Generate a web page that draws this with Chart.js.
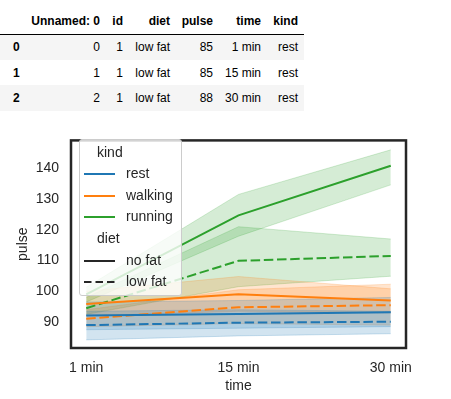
<!DOCTYPE html>
<html>
<head>
<meta charset="utf-8">
<script src="https://cdn.jsdelivr.net/npm/chart.js@4.4.0/dist/chart.umd.min.js"></script>
<style>
  body { margin: 0; background: #fff; width: 451px; height: 399px; overflow: hidden; position: relative;
         font-family: "Liberation Sans", Arial, sans-serif; }
  #df { position: absolute; left: 0; top: 8px; width: 304px; border-collapse: collapse; table-layout: fixed;
        font-size: 12px; color: #000; }
  #df th, #df td { box-sizing: border-box; padding: 0 6px 0 0; text-align: right; white-space: nowrap; font-weight: normal; }
  #df thead th { height: 26px; border-bottom: 1px solid #000; font-weight: bold; }
  #df tbody tr { height: 25.7px; }
  #df tbody tr:nth-child(odd) { background: #f5f5f5; }
  #df tbody th { text-align: left; padding-left: 13px; font-weight: bold; }
  #box { position: absolute; left: 0; top: 120px; width: 451px; height: 279px; }
  #legend { position: absolute; left: 79px; top: 139px; width: 103px; height: 157px; box-sizing: border-box;
            background: rgba(255,255,255,0.8); border: 1px solid #cccccc; border-radius: 3px;
            font-size: 14px; color: #262626; }
  #legend .row { position: absolute; left: 0; height: 21.5px; line-height: 21.5px; white-space: nowrap; }
  #legend svg { position: absolute; left: 3px; top: 0; }
</style>
</head>
<body>
<table id="df"><thead></thead><tbody></tbody></table>
<div id="box"><canvas id="myChart"></canvas></div>
<div id="legend"></div>
<script>
// table head (first rows of the dataframe)
var tableCols = ["", "Unnamed: 0", "id", "diet", "pulse", "time", "kind"];
var colWidths = [30, 76, 23, 47, 43, 48, 37];
var tableRows = [
  ["0", 0, 1, "low fat", 85, "1 min", "rest"],
  ["1", 1, 1, "low fat", 85, "15 min", "rest"],
  ["2", 2, 1, "low fat", 88, "30 min", "rest"]
];

// chart data
var times = ["1 min", "15 min", "30 min"];
var kinds = ["rest", "walking", "running"];
var diets = ["no fat", "low fat"];
var yTicks = [90, 100, 110, 120, 130, 140];

var restNoFat = [92.1, 92.6, 93.2];
var restNoFatLo = [87.5, 88.0, 88.5];
var restNoFatHi = [96.5, 97.0, 98.0];
var restLowFat = [89.0, 89.8, 90.1];
var restLowFatLo = [84.2, 85.5, 86.2];
var restLowFatHi = [93.5, 94.0, 93.5];

var walkNoFat = [95.9, 99.0, 97.0];
var walkNoFatLo = [92.0, 93.5, 93.0];
var walkNoFatHi = [100.0, 104.8, 100.8];
var walkLowFat = [91.1, 94.8, 95.5];
var walkLowFatLo = [88.5, 89.5, 89.0];
var walkLowFatHi = [94.0, 100.5, 102.3];

var runNoFat = [99.0, 124.7, 140.8];
var runNoFatLo = [96.5, 117.9, 134.6];
var runNoFatHi = [101.3, 131.5, 146.0];
var runLowFat = [94.5, 109.9, 111.5];
var runLowFatLo = [92.5, 101.5, 104.9];
var runLowFatHi = [98.0, 121.0, 117.0];

var lineColors = ["#1f77b4", "#ff7f0e", "#2ca02c"];
var bandColors = ["rgba(31,119,180,0.2)", "rgba(255,127,14,0.2)", "rgba(44,160,44,0.2)"];
var dashPattern = [9.5, 3.7];
var textColor = "#262626";
var fontFamily = "'Liberation Sans', Arial, sans-serif";

// build the table
var thead = document.querySelector("#df thead");
var hr = document.createElement("tr");
tableCols.forEach(function (c, i) {
  var th = document.createElement("th");
  th.textContent = c;
  th.style.width = colWidths[i] + "px";
  hr.appendChild(th);
});
thead.appendChild(hr);
var tbody = document.querySelector("#df tbody");
tableRows.forEach(function (r) {
  var tr = document.createElement("tr");
  r.forEach(function (v, i) {
    var cell = document.createElement(i == 0 ? "th" : "td");
    cell.textContent = v;
    tr.appendChild(cell);
  });
  tbody.appendChild(tr);
});

// legend
function handle(color, dashed) {
  return '<svg width="32" height="21.5"><line x1="1" y1="11" x2="32" y2="11" stroke="' + color +
    '" stroke-width="2"' + (dashed ? ' stroke-dasharray="7.5 4"' : '') + '/></svg>';
}
var legendRows = [{ title: "kind" }];
kinds.forEach(function (k, i) { legendRows.push({ text: k, color: lineColors[i], dashed: false }); });
legendRows.push({ title: "diet" });
diets.forEach(function (d, i) { legendRows.push({ text: d, color: textColor, dashed: i == 1 }); });
var legend = document.getElementById("legend");
legendRows.forEach(function (r, i) {
  var div = document.createElement("div");
  div.className = "row";
  div.style.top = (1.5 + i * 21.6) + "px";
  if (r.title) {
    div.style.left = "17px";
    div.textContent = r.title;
  } else {
    div.style.width = "100px";
    div.innerHTML = handle(r.color, r.dashed) + '<span style="position:absolute;left:46px">' + r.text + '</span>';
  }
  legend.appendChild(div);
});

function pts(vals) {
  return vals.map(function (v, i) { return { x: i, y: v }; });
}

function lineSet(vals, ci, dashed) {
  return {
    data: pts(vals), borderColor: lineColors[ci], borderWidth: 2, borderDash: dashed ? dashPattern : [],
    pointRadius: 0, fill: false, tension: 0
  };
}

function bandSets(lo, hi, ci) {
  return [
    { data: pts(hi), borderColor: bandColors[ci], backgroundColor: bandColors[ci], borderWidth: 1,
      pointRadius: 0, fill: "+1", tension: 0 },
    { data: pts(lo), borderColor: bandColors[ci], borderWidth: 1, pointRadius: 0, fill: false, tension: 0 }
  ];
}

// lines first so they end up on top of the bands
var datasets = [
  lineSet(restNoFat, 0, false), lineSet(restLowFat, 0, true),
  lineSet(walkNoFat, 1, false), lineSet(walkLowFat, 1, true),
  lineSet(runNoFat, 2, false), lineSet(runLowFat, 2, true)
].concat(
  bandSets(restNoFatLo, restNoFatHi, 0), bandSets(restLowFatLo, restLowFatHi, 0),
  bandSets(walkNoFatLo, walkNoFatHi, 1), bandSets(walkLowFatLo, walkLowFatHi, 1),
  bandSets(runNoFatLo, runNoFatHi, 2), bandSets(runLowFatLo, runLowFatHi, 2)
);

var framePlugin = {
  id: "frame",
  afterDatasetsDraw: function (chart) {
    var ctx = chart.ctx, a = chart.chartArea;
    ctx.save();
    ctx.strokeStyle = textColor;
    ctx.lineWidth = 2.5;
    ctx.strokeRect(a.left, a.top, a.right - a.left, a.bottom - a.top);
    ctx.restore();
  }
};

var tickFont = { size: 14, family: fontFamily };

new Chart(document.getElementById("myChart").getContext("2d"), {
  type: "line",
  data: { datasets: datasets },
  options: {
    responsive: true,
    maintainAspectRatio: false,
    animation: false,
    devicePixelRatio: 1,
    layout: { padding: { top: 12, right: 45, left: 0, bottom: 0 } },
    plugins: { legend: { display: false }, tooltip: { enabled: false } },
    scales: {
      x: {
        type: "linear", min: -0.1, max: 2.1,
        grid: { display: false, drawTicks: false },
        border: { display: false },
        afterBuildTicks: function (s) { s.ticks = times.map(function (t, i) { return { value: i }; }); },
        afterFit: function (s) { s.height = 51; },
        ticks: { padding: 12, color: textColor, font: tickFont, maxRotation: 0,
                 callback: function (v) { return times[v]; } },
        title: { display: true, text: "time", color: textColor, font: tickFont, padding: { top: 0, bottom: 4 } }
      },
      y: {
        min: 81.56, max: 149.06,
        grid: { display: false, drawTicks: false },
        border: { display: false },
        afterBuildTicks: function (s) { s.ticks = yTicks.map(function (v) { return { value: v }; }); },
        afterFit: function (s) { s.width = 71; },
        ticks: { padding: 12, color: textColor, font: tickFont },
        title: { display: true, text: "pulse", color: textColor, font: tickFont, padding: { top: 15, bottom: 0 } }
      }
    }
  },
  plugins: [framePlugin]
});
</script>
</body>
</html>
